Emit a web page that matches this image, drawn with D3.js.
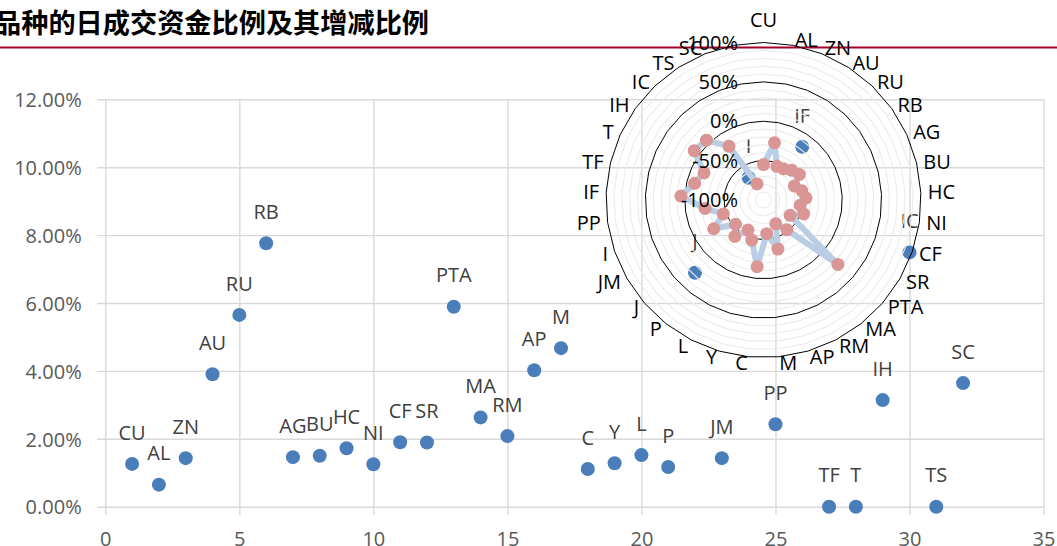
<!DOCTYPE html>
<html><head><meta charset="utf-8">
<script src="https://cdn.jsdelivr.net/npm/d3@7"></script>
<style>html,body{margin:0;padding:0;background:#fff;overflow:hidden}</style>
</head><body><svg id="c" width="1057" height="546"></svg>
<script>
// ---- data ----
const title = "品种的日成交资金比例及其增减比例";
const categories = ["CU","AL","ZN","AU","RU","RB","AG","BU","HC","NI","CF","SR","PTA","MA","RM","AP","M","C","Y","L","P","J","JM","I","PP","IF","TF","T","IH","IC","TS","SC"];
const xIndex = [1,2,3,4,5,6,7,8,9,10,11,12,13,14,15,16,17,18,19,20,21,22,23,24,25,26,27,28,29,30,31,32];
// daily turnover share (%)
const turnoverShare = [1.26,0.65,1.43,3.90,5.65,7.76,1.46,1.50,1.72,1.25,1.90,1.89,5.89,2.63,2.08,4.02,4.67,1.11,1.28,1.52,1.17,6.89,1.43,9.69,2.43,10.60,0,0,3.14,7.49,0,3.64];
// change of turnover (%), radar series
const changePct = [-55,-26,-54,-53,-48,-44,-57,-50,-46,-53,-46,-61,25,-52,-66,-35,-57,-15,-47,-57,-41,-53,-27,-46,-25,5,-10,-17,8,5,-19,-78];
const radarCategories = categories.concat([""]);
const yTicks = [0,2,4,6,8,10,12];
const xTicks = [0,5,10,15,20,25,30,35];
const radarTicks = [-100,-50,0,50,100];

// ---- drawing ----
const W = 1057, H = 546;
const FONT = "'Open Sans','Liberation Sans',sans-serif";
const svg = d3.select("#c");

svg.append("text").attr("x",-6).attr("y",33).text(title)
  .attr("font-family","'Noto Sans CJK SC'").attr("font-weight",700).attr("font-size",27.2).attr("fill","#000");
svg.append("line").attr("x1",0).attr("x2",W).attr("y1",47.5).attr("y2",47.5)
  .attr("stroke","#a8002a").attr("stroke-width",2);

const x = d3.scaleLinear().domain([0,35]).range([105.3,1043.5]);
const y = d3.scaleLinear().domain([0,12]).range([506.7,99.3]);

const gy = svg.append("g").attr("transform",`translate(${x(0)},0)`)
  .call(d3.axisLeft(y).tickValues(yTicks).tickSizeInner(-(x(35)-x(0))).tickSizeOuter(0)
    .tickPadding(23.6).tickFormat(d=>d.toFixed(2)+"%"));
gy.select(".domain").remove();
gy.selectAll(".tick line").attr("x1",-8).attr("stroke","#d9d9d9").attr("stroke-width",1.4);
gy.selectAll(".tick text").attr("font-family",FONT).attr("font-size",20).attr("fill","#595959").attr("dy","0.36em");

const gx = svg.append("g").attr("transform",`translate(0,${y(0)})`)
  .call(d3.axisBottom(x).tickValues(xTicks).tickSizeInner(-(y(0)-y(12))).tickSizeOuter(0)
    .tickPadding(25).tickFormat(d3.format("d")));
gx.select(".domain").remove();
gx.selectAll(".tick line").attr("y1",8).attr("stroke","#d9d9d9").attr("stroke-width",1.4);
gx.selectAll(".tick text").attr("font-family",FONT).attr("font-size",20).attr("fill","#595959");

const pts = categories.map((c,i)=>({c, xi:xIndex[i], v:turnoverShare[i]}));
svg.append("g").selectAll("circle").data(pts).join("circle")
  .attr("cx",d=>x(d.xi)).attr("cy",d=>y(d.v)).attr("r",7).attr("fill","#4a7ebb");
svg.append("g").selectAll("text").data(pts).join("text")
  .attr("x",d=>x(d.xi)).attr("y",d=>y(d.v)-31.5).attr("dy","0.36em")
  .attr("text-anchor","middle").attr("font-family",FONT).attr("font-size",20).attr("fill","#404040")
  .text(d=>d.c);

// ---- radar ----
const cx = 763.5, cy = 200;
const r = d3.scaleLinear().domain([-100,100]).range([0,157.5]);
const nA = radarCategories.length;
const ang = i => i*2*Math.PI/nA;
const gR = svg.append("g").attr("transform",`translate(${cx},${cy})`);
const ringPath = v => d3.lineRadial().angle((d,i)=>ang(i)).radius(r(v)).curve(d3.curveLinearClosed)(radarCategories);
const minor = d3.range(-90,101,10).filter(v=>!radarTicks.includes(v));
gR.selectAll("path.minor").data(minor).join("path").attr("class","minor")
  .attr("d",ringPath).attr("fill","none").attr("stroke","#ebebeb").attr("stroke-width",1.1);
gR.selectAll("path.major").data(radarTicks.filter(v=>v>-100)).join("path").attr("class","major")
  .attr("d",ringPath).attr("fill","none").attr("stroke","#000").attr("stroke-width",1);

gR.append("path").attr("d", d3.lineRadial().angle((d,i)=>ang(i)).radius(d=>r(d))(changePct))
  .attr("fill","none").attr("stroke","#b9cde5").attr("stroke-width",6).attr("stroke-linejoin","round");
gR.selectAll("circle").data(changePct).join("circle")
  .attr("cx",(d,i)=>r(d)*Math.sin(ang(i))).attr("cy",(d,i)=>-r(d)*Math.cos(ang(i)))
  .attr("r",6.5).attr("fill","#d99694");

// category labels
const R = r(100);
gR.selectAll("text.cat").data(radarCategories).join("text").attr("class","cat")
  .each(function(d,i){
    const s = Math.sin(ang(i)), c = Math.cos(ang(i));
    const vx = R*s, vy = -R*c;
    const anchor = Math.abs(s)<0.03 ? "middle" : (s>0 ? "start" : "end");
    const lx = vx + 7*s;
    const ly = Math.abs(s)<0.03 ? (c>0 ? vy-22.5 : vy+22.5) : vy - 6*c;
    d3.select(this).attr("x",lx).attr("y",ly).attr("text-anchor",anchor);
  })
  .attr("dy","0.36em").attr("font-family",FONT).attr("font-size",20).attr("fill","#000")
  .text(d=>d);

// value labels
gR.selectAll("text.val").data(radarTicks).join("text").attr("class","val")
  .attr("x",-25.5).attr("y",d=>-r(d)).attr("dy","0.36em").attr("text-anchor","end")
  .attr("font-family",FONT).attr("font-size",20).attr("fill","#000")
  .text(d=>d+"%");
</script>
</body></html>
